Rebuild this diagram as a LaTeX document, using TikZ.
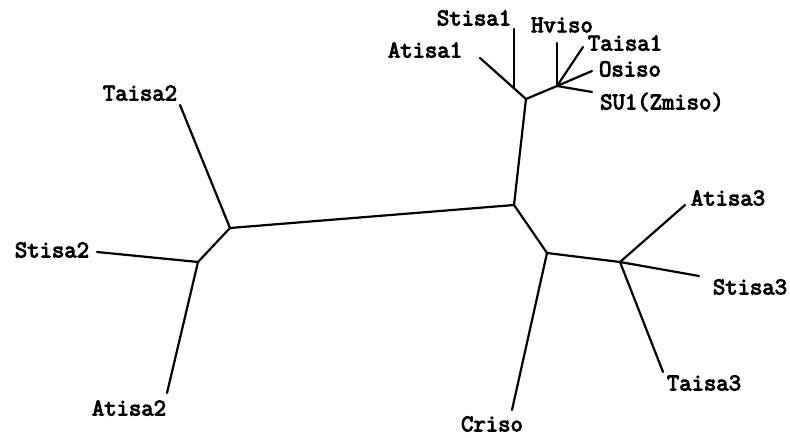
\documentclass[tikz,border=0pt]{standalone}
\usepackage{fontspec}
\newfontfamily\taxonfont{Latin Modern Mono}[FakeBold=4]
\begin{document}
\begin{tikzpicture}[x=1pt,y=-1pt,
  branch/.style={line width=2.2pt,line cap=round,line join=round},
  taxon/.style={font=\taxonfont\fontsize{24}{24}\selectfont,inner sep=0pt}]
\useasboundingbox (0,0) rectangle (790,438);
% internal nodes
\coordinate (c) at (514,205);
\coordinate (a) at (526,99);
\coordinate (s1) at (514,88);
\coordinate (b) at (557,86);
\coordinate (d) at (230,228);
\coordinate (e) at (198,262);
\coordinate (g) at (547,253);
\coordinate (h) at (620,262);
% leaf tips
\coordinate (tAtisa1) at (480,58);
\coordinate (tStisa1) at (514,29);
\coordinate (tHviso) at (557,43);
\coordinate (tTaisa1) at (583,47);
\coordinate (tOsiso) at (592,71);
\coordinate (tSU1) at (592,92);
\coordinate (tTaisa2) at (180,105);
\coordinate (tStisa2) at (97,252);
\coordinate (tAtisa2) at (167,393);
\coordinate (tCriso) at (512,410);
\coordinate (tAtisa3) at (685,205);
\coordinate (tStisa3) at (699,276);
\coordinate (tTaisa3) at (663,372);
% labels
\node[taxon] (Stisa1) at (474,18) {Stisa1};
\node[taxon] (Hviso) at (562,25) {Hviso};
\node[taxon] (Atisa1) at (425,50) {Atisa1};
\node[taxon] (Taisa1) at (625,43) {Taisa1};
\node[taxon] (Osiso) at (630,69) {Osiso};
\node[taxon] (SU1) at (662,102) {SU1(Zmiso)};
\node[taxon] (Taisa2) at (140,93) {Taisa2};
\node[taxon] (Stisa2) at (52,250) {Stisa2};
\node[taxon] (Atisa2) at (129,408) {Atisa2};
\node[taxon] (Atisa3) at (728,198) {Atisa3};
\node[taxon] (Stisa3) at (750,287) {Stisa3};
\node[taxon] (Taisa3) at (704,383) {Taisa3};
\node[taxon] (Criso) at (492,424) {Criso};
% branches
\draw[branch] (c) -- (a);
\draw[branch] (a) -- (tAtisa1);
\draw[branch] (s1) -- (tStisa1);
\draw[branch] (a) -- (b);
\draw[branch] (b) -- (tHviso);
\draw[branch] (b) -- (tTaisa1);
\draw[branch] (b) -- (tOsiso);
\draw[branch] (b) -- (tSU1);
\draw[branch] (c) -- (d);
\draw[branch] (d) -- (tTaisa2);
\draw[branch] (d) -- (e);
\draw[branch] (e) -- (tStisa2);
\draw[branch] (e) -- (tAtisa2);
\draw[branch] (c) -- (g);
\draw[branch] (g) -- (tCriso);
\draw[branch] (g) -- (h);
\draw[branch] (h) -- (tAtisa3);
\draw[branch] (h) -- (tStisa3);
\draw[branch] (h) -- (tTaisa3);
\end{tikzpicture}
\end{document}
